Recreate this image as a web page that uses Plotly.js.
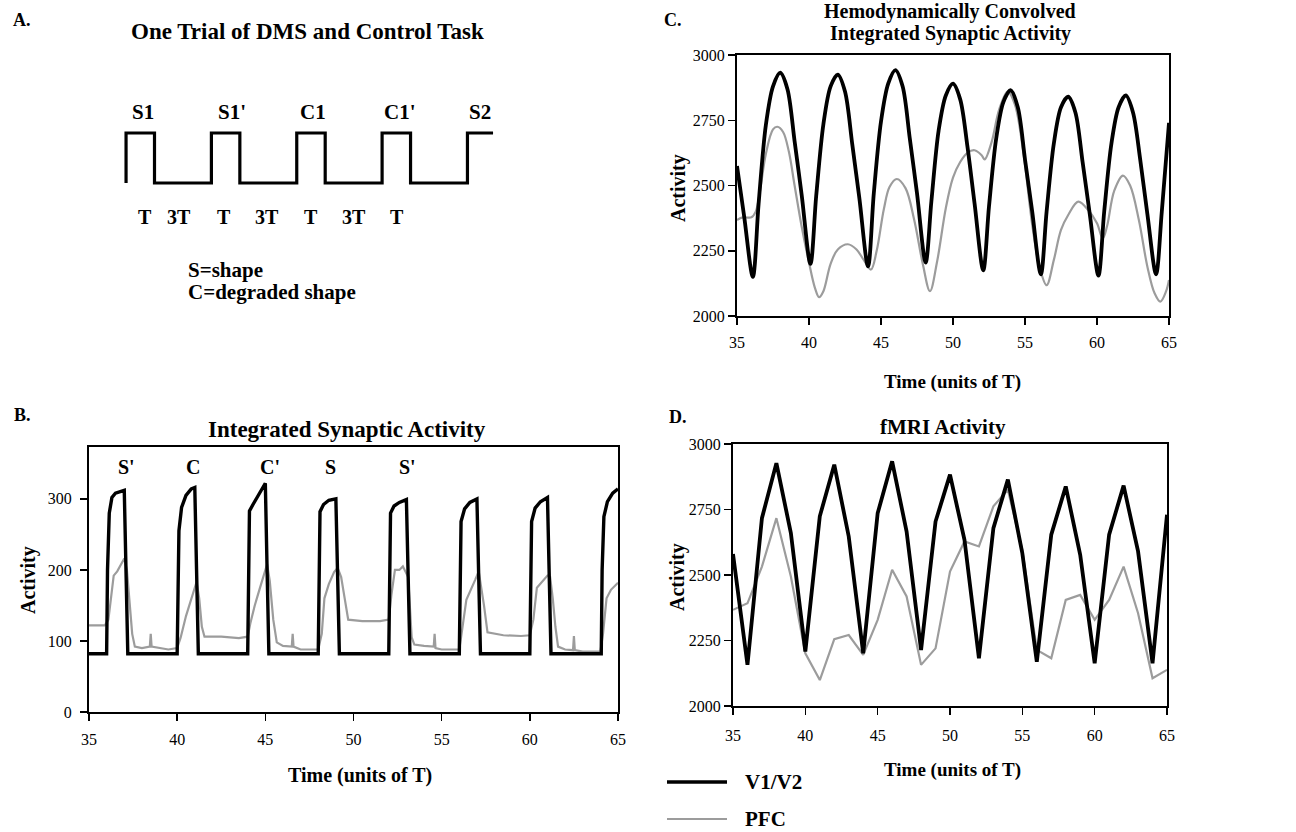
<!DOCTYPE html>
<html>
<head>
<meta charset="utf-8">
<script src="https://cdn.plot.ly/plotly-3.0.1.min.js"></script>
<style>html,body{margin:0;padding:0;background:#fff;}#chart{width:1296px;height:832px;}</style>
</head>
<body>
<div id="chart"></div>
<script>
// ---------- Panel A: one trial square wave (units: high = 1, low = 2 on the drawing) ----------
const waveA_t     = [0, 0, 1, 1, 3, 3, 4, 4, 6, 6, 7, 7, 9, 9, 10, 10, 12, 12, 12.9];
const waveA_level = [0, 1, 1, 0, 0, 1, 1, 0, 0, 1, 1, 0, 0, 1, 1, 0, 0, 1, 1];
const waveA_topLabels = ["S1", "S1'", "C1", "C1'", "S2"];
const waveA_botLabels = ["T", "3T", "T", "3T", "T", "3T", "T"];

// ---------- Panel B: integrated synaptic activity ----------
const tB_v1 = [35,36.0,36.05,36.15,36.3,36.5,37.0,37.1,37.2,
  40.0,40.05,40.1,40.25,40.5,40.8,41.0,41.1,41.2,
  44.0,44.05,44.1,44.3,44.6,44.9,45.0,45.1,45.2,
  48.0,48.05,48.1,48.3,48.6,49.0,49.1,49.2,
  52.0,52.05,52.1,52.3,52.6,53.0,53.1,53.2,
  56.0,56.05,56.1,56.3,56.6,57.0,57.1,57.2,
  60.0,60.05,60.1,60.3,60.6,61.0,61.1,61.2,
  64.05,64.1,64.2,64.4,64.7,65.0];
const vB_v1 = [82,82,200,280,302,308,312,200,82,
  82,200,255,288,305,314,316,200,82,
  82,200,283,292,305,318,322,200,82,
  82,200,282,292,298,300,200,82,
  82,200,280,290,295,299,200,82,
  82,200,268,286,295,300,200,82,
  82,200,268,287,296,302,200,82,
  82,200,275,296,308,314];
const tB_pfc = [35,35.9,36.1,36.25,36.4,36.6,36.8,37.0,37.15,37.3,
  37.45,37.6,38.0,38.45,38.5,38.55,39.0,39.5,40.0,40.2,
  40.5,40.8,41.1,41.25,41.4,41.55,42.5,43.5,44.0,44.15,
  44.4,44.7,45.0,45.1,45.25,45.45,45.65,46.0,46.5,46.55,
  46.6,47.0,47.5,48.0,48.2,48.35,48.6,48.9,49.1,49.3,
  49.5,49.7,50.5,51.5,52.0,52.15,52.35,52.6,52.8,53.1,
  53.3,53.45,54.0,54.55,54.6,54.65,55.0,55.5,56.0,56.1,
  56.4,56.9,57.1,57.4,57.6,58.5,59.5,60.0,60.2,60.4,
  60.7,61.0,61.15,61.3,61.45,61.6,62.0,62.45,62.5,62.55,
  63.0,63.5,64.0,64.15,64.35,64.6,65.0];
const vB_pfc = [122,122,130,165,192,198,208,216,200,160,
  110,92,90,92,110,92,90,88,90,105,
  135,160,183,160,120,106,106,104,106,125,
  150,175,200,208,185,130,98,93,92,110,
  92,88,88,88,110,160,180,197,203,190,
  160,130,128,128,130,165,200,200,205,190,
  105,95,93,92,110,90,88,88,88,105,
  158,186,198,150,112,108,107,108,130,175,
  183,192,190,160,120,92,88,87,107,87,
  85,85,85,110,160,172,182];
const B_trialLabels = ["S'", "C", "C'", "S", "S'"];

// ---------- Panel C: hemodynamically convolved ----------
const tC_v1 = [35,35.5,36.1,36.5,37,37.5,38,38.5,39,39.5,
  40.1,40.5,41,41.5,42,42.5,43,43.5,44.1,44.5,
  45,45.5,46,46.5,47,47.5,48.1,48.5,49,49.5,
  50,50.5,51,51.5,52.1,52.5,53,53.5,54,54.5,
  55,55.5,56.1,56.5,57,57.5,58,58.5,59,59.5,
  60.1,60.5,61,61.5,62,62.5,63,63.5,64.1,64.5,65];
const vC_v1 = [2575,2380,2150,2430,2730,2880,2932,2870,2670,2460,
  2200,2460,2735,2880,2925,2860,2660,2450,2190,2470,
  2745,2890,2942,2880,2680,2470,2205,2440,2710,2845,
  2890,2830,2650,2430,2175,2420,2680,2820,2865,2800,
  2600,2400,2160,2400,2660,2800,2840,2780,2590,2390,
  2155,2400,2660,2800,2845,2780,2600,2390,2160,2400,2740];
const tC_pfc = [35,35.4,36.0,36.3,36.6,37.0,37.5,37.8,38.2,38.6,
  39.0,39.5,40.0,40.4,40.7,41.0,41.5,42.0,42.7,43.3,
  43.8,44.3,44.7,45.2,45.6,46.1,46.7,47.3,47.9,48.4,
  48.9,49.5,50.0,50.5,51.0,51.5,52.0,52.2,52.7,53.2,
  53.8,54.3,54.9,55.5,56.0,56.5,57.0,57.5,58.0,58.7,
  59.4,60.0,60.4,60.7,61.2,61.8,62.3,62.9,63.5,64.0,
  64.4,64.8,65.0];
const vC_pfc = [2368,2378,2378,2400,2480,2620,2715,2725,2705,2630,
  2500,2340,2205,2110,2072,2095,2200,2255,2275,2255,
  2215,2178,2250,2410,2495,2525,2490,2370,2200,2095,
  2210,2413,2530,2590,2625,2635,2615,2600,2670,2790,
  2860,2810,2620,2350,2190,2118,2214,2330,2387,2438,
  2405,2355,2297,2345,2480,2538,2500,2370,2189,2087,
  2055,2095,2138];

// ---------- Panel D: fMRI activity (sampled every T) ----------
const tD = [35,36,37,38,39,40,41,42,43,44,45,46,47,48,49,50,51,52,53,54,55,56,57,58,59,60,61,62,63,64,65];
const vD_v1 = [2580,2157,2717,2927,2660,2208,2724,2921,2647,2201,
  2736,2934,2666,2214,2704,2883,2634,2182,2679,2864,
  2583,2169,2654,2838,2577,2163,2654,2841,2590,2163,2730];
const vD_pfc = [2367,2392,2532,2717,2494,2201,2099,2255,2271,2195,
  2329,2520,2418,2157,2220,2513,2628,2609,2762,2825,
  2596,2214,2182,2405,2424,2329,2405,2532,2354,2106,2138];

const seriesNames = ["V1/V2", "PFC"];
const timeTicks = [35, 40, 45, 50, 55, 60, 65];

// ---------- styling ----------
const W = 1296, H = 832;
const FONT = "Liberation Serif, Times New Roman, serif";
const BLACK = "#000000";
const GRAY = "#9c9c9c";
const px = v => v / W;
const py = v => 1 - v / H;

function ann(text, x, y, size, extra) {
  return Object.assign({
    text: "<b>" + text + "</b>", x: px(x), y: py(y), xref: "paper", yref: "paper",
    showarrow: false, xanchor: "center", yanchor: "middle",
    font: {family: FONT, size: size, color: BLACK}
  }, extra || {});
}

const traces = [
  {x: waveA_t, y: waveA_level, xaxis: "x4", yaxis: "y4", mode: "lines",
   line: {color: BLACK, width: 3.2, shape: "linear"}, showlegend: false, hoverinfo: "skip"},
  {x: tB_pfc, y: vB_pfc, xaxis: "x", yaxis: "y", mode: "lines", name: seriesNames[1],
   line: {color: GRAY, width: 2.2}, showlegend: false},
  {x: tB_v1, y: vB_v1, xaxis: "x", yaxis: "y", mode: "lines", name: seriesNames[0],
   line: {color: BLACK, width: 3.4}, showlegend: false},
  {x: tC_pfc, y: vC_pfc, xaxis: "x2", yaxis: "y2", mode: "lines", name: seriesNames[1],
   line: {color: GRAY, width: 2.2, shape: "spline", smoothing: 1}, showlegend: false},
  {x: tC_v1, y: vC_v1, xaxis: "x2", yaxis: "y2", mode: "lines", name: seriesNames[0],
   line: {color: BLACK, width: 3.8, shape: "spline", smoothing: 0.9}, showlegend: false},
  {x: tD, y: vD_pfc, xaxis: "x3", yaxis: "y3", mode: "lines", name: seriesNames[1],
   line: {color: GRAY, width: 2.2}, showlegend: false},
  {x: tD, y: vD_v1, xaxis: "x3", yaxis: "y3", mode: "lines", name: seriesNames[0],
   line: {color: BLACK, width: 3.8}, showlegend: false}
];

function xax(domain, fontSize, anchor, standoff) {
  return {domain: domain, range: [35, 65], anchor: anchor, tickvals: timeTicks,
    ticks: "outside", ticklen: 7, tickwidth: 1.5, tickcolor: BLACK,
    ticklabelstandoff: standoff,
    showline: true, linewidth: 2, linecolor: BLACK, mirror: true,
    showgrid: false, zeroline: false,
    tickfont: {family: FONT, size: fontSize, color: BLACK}};
}
function yax(domain, range, tickvals, fontSize, anchor, standoff) {
  return {domain: domain, range: range, anchor: anchor, tickvals: tickvals,
    ticks: "outside", ticklen: 7, tickwidth: 1.5, tickcolor: BLACK,
    ticklabelstandoff: standoff,
    showline: true, linewidth: 2, linecolor: BLACK, mirror: true,
    showgrid: false, zeroline: false,
    tickfont: {family: FONT, size: fontSize, color: BLACK}};
}

const annotations = [
  ann("A.", 22, 20, 18), ann("B.", 22, 415, 18), ann("C.", 673, 20, 18), ann("D.", 678, 417, 18),
  ann("One Trial of DMS and Control Task", 307, 32, 23),
  ann(waveA_topLabels[0], 143, 112, 21), ann(waveA_topLabels[1], 232, 112, 21),
  ann(waveA_topLabels[2], 313, 112, 21), ann(waveA_topLabels[3], 400, 112, 21),
  ann(waveA_topLabels[4], 480, 112, 21),
  ann(waveA_botLabels[0], 145, 217, 20), ann(waveA_botLabels[1], 179, 217, 20),
  ann(waveA_botLabels[2], 224, 217, 20), ann(waveA_botLabels[3], 267, 217, 20),
  ann(waveA_botLabels[4], 311, 217, 20), ann(waveA_botLabels[5], 354, 217, 20),
  ann(waveA_botLabels[6], 397, 217, 20),
  ann("S=shape", 186, 270, 21, {xanchor: "left"}),
  ann("C=degraded shape", 186, 292, 21, {xanchor: "left"}),
  ann("Integrated Synaptic Activity", 347, 429, 23),
  ann(B_trialLabels[0], 126, 467, 20), ann(B_trialLabels[1], 193, 467, 20),
  ann(B_trialLabels[2], 270, 467, 20), ann(B_trialLabels[3], 330, 467, 20),
  ann(B_trialLabels[4], 407, 467, 20),
  ann("Activity", 28, 580, 20, {textangle: -90}),
  ann("Time (units of T)", 360, 775, 20),
  ann("Hemodynamically Convolved", 950, 12, 20),
  ann("Integrated Synaptic Activity", 950, 34, 20),
  ann("Activity", 679, 188, 20, {textangle: -90}),
  ann("Time (units of T)", 952, 382, 19),
  ann("fMRI Activity", 943, 427, 21),
  ann("Activity", 677, 577, 20, {textangle: -90}),
  ann("Time (units of T)", 952, 770, 19),
  ann(seriesNames[0], 743, 782, 21, {xanchor: "left"}),
  ann(seriesNames[1], 743, 819, 21, {xanchor: "left"})
];

const shapes = [
  {type: "line", xref: "paper", yref: "paper", x0: px(667), x1: px(727), y0: py(782), y1: py(782),
   line: {color: BLACK, width: 3.5}},
  {type: "line", xref: "paper", yref: "paper", x0: px(667), x1: px(727), y0: py(819), y1: py(819),
   line: {color: GRAY, width: 2}}
];

const layout = {
  width: W, height: H, autosize: false,
  margin: {l: 0, r: 0, t: 0, b: 0, pad: 0},
  paper_bgcolor: "#ffffff", plot_bgcolor: "rgba(0,0,0,0)",
  showlegend: false,
  font: {family: FONT, color: BLACK},
  xaxis:  xax([px(89), px(618)], 16, "y", 5),
  yaxis:  yax([py(712), py(447)], [0, 373], [0, 100, 200, 300], 16, "x", 5),
  xaxis2: xax([px(737), px(1169)], 16, "y2", 4),
  yaxis2: yax([py(316), py(55)], [2000, 3000], [2000, 2250, 2500, 2750, 3000], 16, "x2", 0),
  xaxis3: xax([px(733), px(1167)], 16, "y3", 7),
  yaxis3: yax([py(706), py(444)], [2000, 3000], [2000, 2250, 2500, 2750, 3000], 16, "x3", 0),
  xaxis4: {domain: [px(123.2), px(495.9)], range: [-0.1, 13], anchor: "y4", visible: false, fixedrange: true},
  yaxis4: {domain: [py(188), py(128)], range: [-0.1, 1.1], anchor: "x4", visible: false, fixedrange: true},
  annotations: annotations,
  shapes: shapes
};

Plotly.newPlot("chart", traces, layout, {displayModeBar: false, staticPlot: true});
</script>
</body>
</html>
